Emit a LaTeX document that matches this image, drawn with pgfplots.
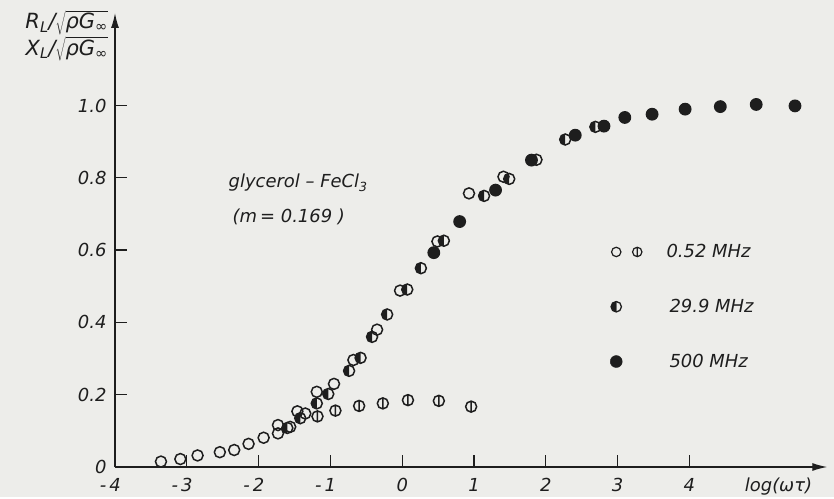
\documentclass[border=0pt]{standalone}
\usepackage{fontspec}
\setmainfont{DejaVu Sans}
\usepackage{pgfplots}
\pgfplotsset{compat=1.18}
\usetikzlibrary{arrows.meta}
\definecolor{paper}{RGB}{237,237,234}
\definecolor{ink}{RGB}{30,30,30}
\pgfdeclareplotmark{phi}{%
  \pgfpathcircle{\pgfpointorigin}{\pgfplotmarksize}%
  \pgfpathmoveto{\pgfqpoint{0pt}{-\pgfplotmarksize}}%
  \pgfpathlineto{\pgfqpoint{0pt}{\pgfplotmarksize}}%
  \pgfusepathqstroke}
\pgfdeclareplotmark{lefthalf}{%
  \pgfpathmoveto{\pgfqpoint{0pt}{\pgfplotmarksize}}%
  \pgfpatharc{90}{270}{\pgfplotmarksize}%
  \pgfpathclose
  \pgfusepathqfill
  \pgfpathcircle{\pgfpointorigin}{\pgfplotmarksize}%
  \pgfusepathqstroke}
\begin{document}
\begin{tikzpicture}[font=\fontsize{18}{21}\selectfont\itshape]
\fill[paper] (-115bp,-30bp) rectangle (719bp,467bp);
\begin{axis}[
  at={(0,0)}, anchor=south west, scale only axis,
  width=712.3bp, height=454bp,
  xmin=-4, xmax=5.92, ymin=0, ymax=1.256,
  axis lines=left,
  axis line style={ink, line width=1.3bp},
  x axis line style={-{Latex[length=15bp,width=8bp]}},
  y axis line style={-{Latex[length=15bp,width=8bp]}},
  xtick={-4,-3,-2,-1,0,1,2,3,4},
  xticklabels={\llap{-\,}4,\llap{-\,}3,\llap{-\,}2,\llap{-\,}1,0,1,2,3,4},
  ytick={0,0.2,0.4,0.6,0.8,1.0},
  yticklabels={0\hspace{6bp},0.2,0.4,0.6,0.8,1.0},
  tick align=inside, major tick length=12bp,
  tick style={ink, line width=1.3bp},
  ticklabel style={text=ink},
  xticklabel style={yshift=-8bp},
  yticklabel style={xshift=-5bp},
  clip=false,
  legend style={draw=none, fill=none, at={(axis cs:2.85,0.627)}, anchor=north west,
    row sep=36bp, text=ink, font=\fontsize{18}{21}\selectfont\itshape,
    /tikz/every odd column/.append style={column sep=22bp}},
  legend cell align=left,
]
\addplot[only marks, mark=o, mark size=5.5bp, mark options={draw=ink, line width=1.5bp},
  legend image code/.code={%
    \draw[ink, line width=1.2bp] (0bp,0bp) circle (4.7bp);
    \draw[ink, line width=1.2bp] (21bp,0bp) circle (4.7bp) (21bp,-4.7bp) -- (21bp,4.7bp);}]
coordinates {
(-3.36,0.015) (-3.09,0.022) (-2.85,0.032) (-2.54,0.041) (-2.34,0.047)
(-2.14,0.064) (-1.93,0.081) (-1.73,0.093) (-1.73,0.116) (-1.56,0.111)
(-1.46,0.154) (-1.35,0.148) (-1.19,0.208) (-0.95,0.230) (-0.68,0.296)
(-0.35,0.380) (-0.03,0.488) (0.49,0.624) (0.93,0.757) (1.41,0.803)
};
\addlegendentry{0.52 MHz}
\addplot[only marks, mark=phi, mark size=5.5bp, mark options={draw=ink, line width=1.5bp}, forget plot]
coordinates {
(-1.18,0.140) (-0.93,0.156) (-0.60,0.169) (-0.27,0.176) (0.08,0.185) (0.51,0.183) (0.96,0.167)
};
\addplot[only marks, mark=lefthalf, mark size=5.5bp, mark options={draw=ink, fill=ink, line width=1.5bp},
  legend image code/.code={%
    \fill[ink] (0bp,5.2bp) arc (90:270:5.2bp) -- cycle;
    \draw[ink, line width=1.3bp] (0bp,0bp) circle (5.2bp);}]
coordinates {
(-1.60,0.108) (-1.42,0.135) (-1.19,0.176) (-1.03,0.202) (-0.74,0.266)
(-0.58,0.302) (-0.42,0.360) (-0.21,0.422) (0.07,0.491) (0.26,0.550)
(0.58,0.626) (1.14,0.750) (1.49,0.797) (1.87,0.850) (2.27,0.906) (2.69,0.941)
};
\addlegendentry{\,29.9 MHz}
\addplot[only marks, mark=*, mark size=5.7bp, mark options={draw=ink, fill=ink, line width=1.4bp},
  legend image code/.code={%
    \fill[ink] (0bp,0bp) circle (6bp);}]
coordinates {
(0.44,0.593) (0.80,0.679) (1.30,0.766) (1.80,0.849) (2.41,0.918) (2.81,0.943)
(3.10,0.967) (3.48,0.976) (3.94,0.990) (4.43,0.997) (4.93,1.003) (5.47,0.999)
};
\addlegendentry{\,500 MHz}
\node[anchor=east, text=ink, font=\fontsize{21}{24}\selectfont\itshape] at (axis cs:-4.05,1.230)
  {R\textsubscript{L}/$\sqrt{\mbox{ρG\textsubscript{∞}}}$};
\node[anchor=east, text=ink, font=\fontsize{21}{24}\selectfont\itshape] at (axis cs:-4.05,1.156)
  {X\textsubscript{L}/$\sqrt{\mbox{ρG\textsubscript{∞}}}$};
\node[anchor=west, text=ink] at (axis cs:-2.465,0.786) {glycerol – FeCl\textsubscript{3}};
\node[anchor=west, text=ink] at (axis cs:-2.41,0.692) {(m\,= 0.169 )};
\node[text=ink] at (axis cs:5.24,-0.055) {log(ωτ)};
\end{axis}
\end{tikzpicture}
\end{document}
